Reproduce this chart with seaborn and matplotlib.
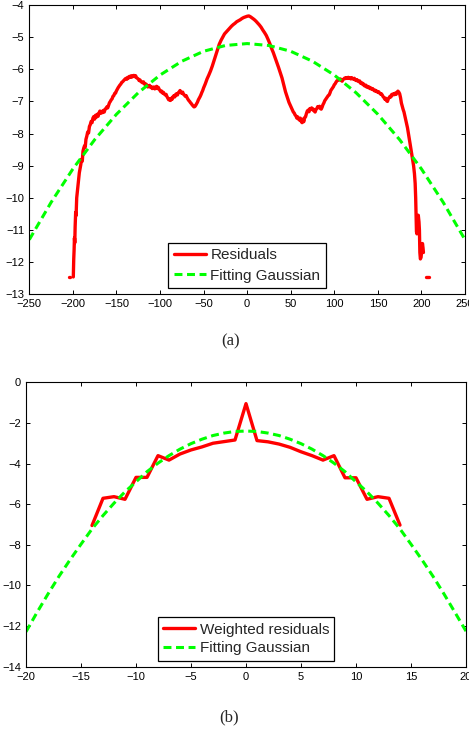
import numpy as np
import pandas as pd
import seaborn as sns
import matplotlib
matplotlib.use("Agg")
import matplotlib.pyplot as plt

# ---- panel (a): residuals ----
res_x = [-199.5, -199.0, -198.6, -198.2, -197.8, -197.4, -196.8, -196.3, -195.6, -195.0,
         -194.2, -193.5, -192.6, -191.8, -191.0, -190.0, -189.2, -188.4, -187.5, -186.6,
         -185.8, -185.0, -184.0, -183.0, -182.0, -181.0, -180.0, -179.0, -178.0, -177.0,
         -176.0, -175.0, -174.0, -173.0, -172.0, -171.0, -170.0, -169.0, -168.0, -167.0,
         -166.0, -165.0, -164.0, -163.0, -162.0, -161.0, -160.0, -159.0, -158.0, -157.0,
         -156.0, -155.0, -154.0, -153.0, -152.0, -151.0, -150.0, -149.0, -148.0, -147.0,
         -146.0, -145.0, -144.0, -143.0, -142.0, -141.0, -140.0, -139.0, -138.0, -137.0,
         -136.0, -135.0, -134.0, -133.0, -132.0, -131.0, -130.0, -129.0, -128.0, -127.0,
         -126.0, -125.0, -124.0, -123.0, -122.0, -121.0, -120.0, -119.0, -118.0, -117.0,
         -116.0, -115.0, -114.0, -113.0, -112.0, -111.0, -110.0, -109.0, -108.0, -107.0,
         -106.0, -105.0, -104.0, -103.0, -102.0, -101.0, -100.0, -99.0, -98.0, -97.0,
         -96.0, -95.0, -94.0, -93.0, -92.0, -91.0, -90.0, -89.0, -88.0, -87.0,
         -86.0, -85.0, -84.0, -83.0, -82.0, -81.0, -80.0, -79.0, -78.0, -77.0,
         -76.0, -75.0, -74.0, -73.0, -72.0, -71.0, -70.0, -69.0, -68.0, -67.0,
         -66.0, -65.0, -64.0, -63.0, -62.0, -61.0, -60.0, -59.0, -58.0, -57.0,
         -56.0, -55.0, -54.0, -53.0, -52.0, -51.0, -50.0, -48.0, -46.0, -44.0,
         -42.0, -40.0, -38.0, -36.0, -34.0, -32.0, -30.0, -28.0, -26.0, -24.0,
         -22.0, -20.0, -18.0, -16.0, -14.0, -12.0, -10.0, -8.0, -6.0, -4.0,
         -2.0, 0.0, 2.0, 4.0, 6.0, 8.0, 10.0, 12.0, 14.0, 16.0,
         18.0, 20.0, 22.0, 24.0, 26.0, 28.0, 30.0, 32.0, 34.0, 36.0,
         38.0, 40.0, 42.0, 44.0, 46.0, 48.0, 50.0, 52.0, 53.0, 54.0,
         55.0, 56.0, 57.0, 58.0, 59.0, 60.0, 61.0, 62.0, 63.0, 64.0,
         65.0, 66.0, 67.0, 68.0, 69.0, 70.0, 71.0, 72.0, 73.0, 74.0,
         75.0, 76.0, 77.0, 78.0, 79.0, 80.0, 81.0, 82.0, 83.0, 84.0,
         85.0, 86.0, 87.0, 88.0, 89.0, 90.0, 91.0, 92.0, 93.0, 94.0,
         95.0, 96.0, 97.0, 98.0, 99.0, 100.0, 101.0, 102.0, 103.0, 104.0,
         105.0, 106.0, 107.0, 108.0, 109.0, 110.0, 111.0, 112.0, 113.0, 114.0,
         115.0, 116.0, 117.0, 118.0, 119.0, 120.0, 121.0, 122.0, 123.0, 124.0,
         125.0, 126.0, 127.0, 128.0, 129.0, 130.0, 131.0, 132.0, 133.0, 134.0,
         135.0, 136.0, 137.0, 138.0, 139.0, 140.0, 141.0, 142.0, 143.0, 144.0,
         145.0, 146.0, 147.0, 148.0, 149.0, 150.0, 151.0, 152.0, 153.0, 154.0,
         155.0, 156.0, 157.0, 158.0, 159.0, 160.0, 161.0, 162.0, 163.0, 164.0,
         165.0, 166.0, 167.0, 168.0, 169.0, 170.0, 171.0, 172.0, 173.0, 174.0,
         175.0, 176.0, 177.0, 178.0, 179.0, 180.0, 181.0, 182.0, 183.0, 184.0,
         185.0, 186.0, 187.0, 188.0, 189.0, 190.0, 191.0, 192.0, 192.8, 193.4,
         193.8, 194.3, 194.8, 195.5, 196.4, 197.2, 197.7, 198.2, 198.8, 199.6,
         200.4, 201.2, 201.8, 202.3]
res_y = [-12.46, -11.90, -11.63, -11.25, -11.40, -10.90, -10.45, -10.55, -10.00, -9.85,
         -9.62, -9.50, -9.22, -9.10, -8.98, -8.80, -8.86, -8.55, -8.45, -8.38,
         -8.42, -8.18, -8.08, -7.95, -7.98, -7.78, -7.72, -7.62, -7.66, -7.52,
         -7.47, -7.55, -7.43, -7.49, -7.40, -7.46, -7.36, -7.30, -7.37, -7.31,
         -7.35, -7.28, -7.33, -7.24, -7.22, -7.17, -7.20, -7.12, -7.04, -7.00,
         -6.95, -6.92, -6.84, -6.82, -6.75, -6.74, -6.67, -6.62, -6.57, -6.53,
         -6.49, -6.46, -6.41, -6.39, -6.36, -6.33, -6.30, -6.28, -6.31, -6.25,
         -6.27, -6.22, -6.25, -6.20, -6.24, -6.21, -6.19, -6.23, -6.20, -6.26,
         -6.28, -6.30, -6.35, -6.33, -6.38, -6.40, -6.42, -6.39, -6.45, -6.48,
         -6.46, -6.50, -6.55, -6.52, -6.50, -6.56, -6.54, -6.60, -6.57, -6.55,
         -6.61, -6.58, -6.53, -6.60, -6.56, -6.62, -6.66, -6.70, -6.68, -6.74,
         -6.72, -6.77, -6.80, -6.78, -6.85, -6.90, -6.95, -6.92, -6.97, -6.90,
         -6.93, -6.85, -6.82, -6.86, -6.78, -6.76, -6.80, -6.73, -6.70, -6.66,
         -6.72, -6.75, -6.71, -6.78, -6.80, -6.84, -6.82, -6.88, -6.93, -6.97,
         -7.00, -7.04, -7.07, -7.11, -7.14, -7.17, -7.16, -7.12, -7.07, -7.02,
         -6.95, -6.90, -6.85, -6.79, -6.72, -6.66, -6.58, -6.45, -6.30, -6.18,
         -6.05, -5.90, -5.73, -5.55, -5.38, -5.22, -5.10, -5.00, -4.90, -4.84,
         -4.78, -4.72, -4.66, -4.61, -4.57, -4.52, -4.49, -4.46, -4.42, -4.39,
         -4.37, -4.35, -4.34, -4.37, -4.41, -4.45, -4.50, -4.56, -4.62, -4.69,
         -4.78, -4.86, -4.95, -5.07, -5.20, -5.35, -5.48, -5.63, -5.78, -5.94,
         -6.10, -6.27, -6.48, -6.70, -6.87, -7.03, -7.15, -7.27, -7.33, -7.36,
         -7.42, -7.45, -7.52, -7.48, -7.55, -7.58, -7.52, -7.62, -7.66, -7.55,
         -7.63, -7.50, -7.48, -7.38, -7.30, -7.27, -7.32, -7.22, -7.25, -7.20,
         -7.26, -7.24, -7.30, -7.33, -7.25, -7.22, -7.16, -7.19, -7.15, -7.22,
         -7.24, -7.18, -7.10, -7.05, -6.98, -6.94, -6.90, -6.86, -6.82, -6.80,
         -6.74, -6.66, -6.62, -6.58, -6.54, -6.48, -6.45, -6.40, -6.36, -6.34,
         -6.31, -6.33, -6.30, -6.35, -6.37, -6.32, -6.30, -6.27, -6.29, -6.26,
         -6.28, -6.25, -6.28, -6.27, -6.30, -6.26, -6.29, -6.31, -6.28, -6.33,
         -6.35, -6.32, -6.37, -6.38, -6.36, -6.43, -6.41, -6.46, -6.44, -6.50,
         -6.52, -6.49, -6.55, -6.53, -6.57, -6.55, -6.60, -6.58, -6.62, -6.60,
         -6.64, -6.67, -6.65, -6.69, -6.68, -6.72, -6.70, -6.74, -6.77, -6.76,
         -6.80, -6.85, -6.88, -6.93, -6.90, -6.98, -7.00, -6.92, -6.88, -6.84,
         -6.86, -6.78, -6.80, -6.76, -6.79, -6.74, -6.78, -6.72, -6.68, -6.71,
         -6.76, -6.88, -7.05, -7.15, -7.25, -7.33, -7.45, -7.56, -7.68, -7.82,
         -7.98, -8.15, -8.32, -8.50, -8.66, -8.82, -9.00, -9.25, -9.55, -10.00,
         -10.50, -11.05, -11.12, -10.60, -10.54, -10.75, -11.00, -11.70, -11.90, -11.85,
         -11.60, -11.42, -11.55, -11.70]
# two isolated short pieces at the bottom
dot_left_x = [-205.0, -203.8]
dot_right_x = [205.0, 209.2]
dot_y = [-12.46, -12.46]

gauss_a_x = [-250, -225, -200, -175, -150, -125, -100, -75, -50, -25, 0,
             25, 50, 75, 100, 125, 150, 175, 200, 225, 250]
gauss_a_y = [-11.30, -10.14, -9.10, -8.19, -7.40, -6.73, -6.18, -5.75, -5.44, -5.26, -5.20,
             -5.26, -5.44, -5.75, -6.18, -6.73, -7.40, -8.19, -9.10, -10.14, -11.30]

# ---- panel (b): weighted residuals ----
wres_x = list(range(-14, 15))
wres_y = [-7.05, -5.71, -5.63, -5.76, -4.68, -4.68, -3.61, -3.83, -3.53, -3.33,
          -3.18, -3.00, -2.92, -2.84, -1.05, -2.87, -2.93, -3.04, -3.20, -3.42,
          -3.61, -3.83, -3.61, -4.70, -4.70, -5.76, -5.63, -5.71, -7.03]

gauss_b_x = list(range(-20, 21))
gauss_b_y = [-12.28, -11.33, -10.42, -9.55, -8.74, -7.97, -7.22, -6.56, -5.95, -5.39,
             -4.90, -4.40, -3.98, -3.61, -3.29, -3.02, -2.80, -2.62, -2.50, -2.42,
             -2.40,
             -2.42, -2.50, -2.62, -2.80, -3.02, -3.29, -3.61, -3.98, -4.40, -4.90,
             -5.39, -5.95, -6.56, -7.22, -7.97, -8.74, -9.55, -10.42, -11.33, -12.25]

sns.set_theme(style="white", rc={
    "xtick.direction": "in", "ytick.direction": "in",
    "xtick.top": True, "ytick.right": True,
    "xtick.bottom": True, "ytick.left": True,
    "xtick.major.size": 3.0, "ytick.major.size": 3.0,
    "xtick.major.width": 0.7, "ytick.major.width": 0.7,
    "axes.edgecolor": "black", "axes.linewidth": 0.8,
    "xtick.color": "black", "ytick.color": "black",
    "xtick.labelsize": 8, "ytick.labelsize": 8,
})
plt.rcParams["font.family"] = ["Liberation Sans", "DejaVu Sans"]

RED = "#ff0000"
GREEN = "#00ff00"
DASH = (0, (2.6, 1.5))

fig = plt.figure(figsize=(4.69, 7.33), dpi=100)
ax1 = fig.add_axes([29.3 / 469, 1 - 294.3 / 733, (465 - 29.3) / 469, (294.3 - 5) / 733])
ax2 = fig.add_axes([26 / 469, 1 - 666.7 / 733, (466 - 26) / 469, (666.7 - 382.3) / 733])

# panel (a)
sns.lineplot(x=res_x, y=res_y, ax=ax1, color=RED, lw=2.4, sort=False,
             estimator=None, label="Residuals")
for dx in (dot_left_x, dot_right_x):
    sns.lineplot(x=dx, y=dot_y, ax=ax1, color=RED, lw=2.4, sort=False,
                 estimator=None, legend=False)
sns.lineplot(x=gauss_a_x, y=gauss_a_y, ax=ax1, color=GREEN, lw=2.2,
             linestyle=DASH, sort=False, estimator=None, label="Fitting Gaussian")
ax1.set_xlim(-250, 250)
ax1.set_ylim(-13, -4)
ax1.set_xticks(range(-250, 251, 50))
ax1.set_yticks(range(-13, -3))

# panel (b)
sns.lineplot(x=wres_x, y=wres_y, ax=ax2, color=RED, lw=2.4, sort=False,
             estimator=None, label="Weighted residuals")
sns.lineplot(x=gauss_b_x, y=gauss_b_y, ax=ax2, color=GREEN, lw=2.2,
             linestyle=DASH, sort=False, estimator=None, label="Fitting Gaussian")
ax2.set_xlim(-20, 20)
ax2.set_ylim(-14, 0)
ax2.set_xticks(range(-20, 21, 5))
ax2.set_yticks(range(-14, 1, 2))

for ax, lsp in ((ax1, 0.45), (ax2, 0.3)):
    ax.set_xlabel("")
    ax.set_ylabel("")
    for s in ax.spines.values():
        s.set_visible(True)
    leg = ax.legend(loc="lower center", fontsize=11, frameon=True, fancybox=False,
                    framealpha=1, edgecolor="black", borderaxespad=0.4,
                    handlelength=2.1, handletextpad=0.3, labelspacing=lsp,
                    borderpad=0.35)
    leg.get_frame().set_linewidth(0.9)

fig.text(231 / 469, 1 - 341 / 733, "(a)", ha="center", va="center",
         family=["Liberation Serif", "DejaVu Serif"], fontsize=12)
fig.text(229 / 469, 1 - 717 / 733, "(b)", ha="center", va="center",
         family=["Liberation Serif", "DejaVu Serif"], fontsize=12)

fig.savefig("out.png", dpi=100)
